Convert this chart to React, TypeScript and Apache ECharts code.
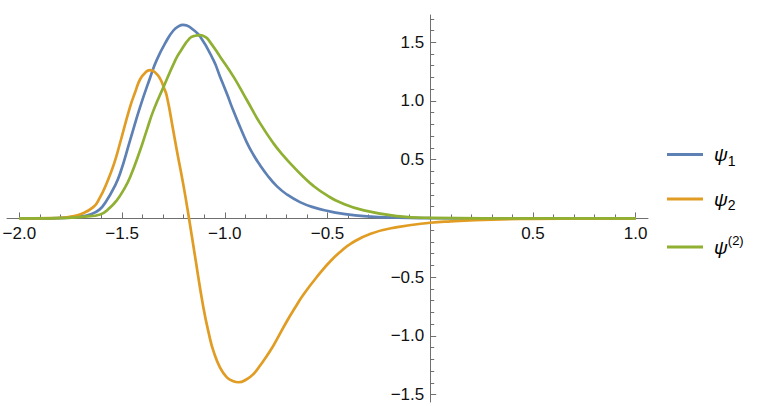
import React, { useEffect, useRef } from "react";
import * as echarts from "echarts";

// ---- data ----
const seriesNames = ["ψ1", "ψ2", "ψ(2)"];
const seriesColors = ["#5E81B5", "#E19C24", "#8FB032"];

const psi1: [number, number][] = [
  [-2.0, 0], [-1.85, 0.001], [-1.78, 0.005], [-1.72, 0.014], [-1.656, 0.034],
  [-1.61, 0.075], [-1.575, 0.153], [-1.54, 0.26], [-1.51, 0.38], [-1.461, 0.665],
  [-1.412, 0.95], [-1.363, 1.2], [-1.331, 1.35], [-1.282, 1.517], [-1.25, 1.6],
  [-1.225, 1.635], [-1.204, 1.648], [-1.185, 1.642], [-1.16, 1.615], [-1.12, 1.548],
  [-1.055, 1.347], [-1.023, 1.207], [-0.99, 1.063], [-0.959, 0.92], [-0.924, 0.772],
  [-0.893, 0.648], [-0.86, 0.54], [-0.829, 0.455], [-0.794, 0.37], [-0.747, 0.275],
  [-0.697, 0.203], [-0.634, 0.139], [-0.567, 0.094], [-0.485, 0.058], [-0.437, 0.043],
  [-0.323, 0.02], [-0.16, 0.006], [0, 0.002], [0.3, 0], [1.0, 0],
];

const psi2: [number, number][] = [
  [-2.0, 0], [-1.85, 0.002], [-1.78, 0.008], [-1.74, 0.018], [-1.705, 0.034],
  [-1.64, 0.096], [-1.61, 0.17], [-1.575, 0.3], [-1.54, 0.46], [-1.51, 0.64],
  [-1.461, 0.95], [-1.435, 1.08], [-1.412, 1.185], [-1.385, 1.245], [-1.364, 1.262],
  [-1.34, 1.245], [-1.315, 1.19], [-1.298, 1.12], [-1.282, 1.04], [-1.251, 0.75],
  [-1.234, 0.585], [-1.202, 0.29], [-1.174, 0.0], [-1.145, -0.32], [-1.105, -0.75],
  [-1.075, -1.0], [-1.055, -1.13], [-1.023, -1.27], [-0.99, -1.353], [-0.958, -1.387],
  [-0.933, -1.395], [-0.893, -1.369], [-0.86, -1.324], [-0.829, -1.255], [-0.778, -1.125],
  [-0.737, -1.0], [-0.697, -0.873], [-0.655, -0.752], [-0.616, -0.645], [-0.534, -0.46],
  [-0.485, -0.362], [-0.437, -0.283], [-0.388, -0.216], [-0.29, -0.13], [-0.16, -0.074],
  [0, -0.037], [0.1, -0.025], [0.3, -0.01], [0.5, -0.004], [0.75, -0.001], [1.0, 0],
];

const psi2nd: [number, number][] = [
  [-2.0, 0], [-1.85, 0.001], [-1.75, 0.006], [-1.68, 0.015], [-1.607, 0.034],
  [-1.56, 0.09], [-1.526, 0.153], [-1.49, 0.25], [-1.461, 0.35], [-1.412, 0.58],
  [-1.38, 0.75], [-1.347, 0.92], [-1.298, 1.12], [-1.24, 1.35], [-1.217, 1.42],
  [-1.17, 1.535], [-1.145, 1.555], [-1.12, 1.56], [-1.095, 1.545], [-1.075, 1.51],
  [-1.022, 1.375], [-0.957, 1.205], [-0.892, 1.006], [-0.827, 0.807], [-0.762, 0.637],
  [-0.715, 0.535], [-0.664, 0.437], [-0.618, 0.355], [-0.567, 0.275], [-0.504, 0.198],
  [-0.437, 0.135], [-0.323, 0.068], [-0.16, 0.02], [0, 0.005], [0.3, 0.001], [1.0, 0],
];

const xRange = [-2.06, 1.06];
const yRange = [-1.563, 1.732];
const xMajorTicks = [-2, -1.5, -1, -0.5, 0, 0.5, 1];
const xMinorTicks = [
  -1.9, -1.8, -1.7, -1.6, -1.4, -1.3, -1.2, -1.1, -0.9, -0.8, -0.7, -0.6,
  -0.4, -0.3, -0.2, -0.1, 0.1, 0.2, 0.3, 0.4, 0.6, 0.7, 0.8, 0.9,
];
const xTickLabels = [-2, -1.5, -1, -0.5, 0.5, 1];
const yMajorTicks = [-1.5, -1, -0.5, 0, 0.5, 1, 1.5];
const yMinorTicks = [
  -1.4, -1.3, -1.2, -1.1, -0.9, -0.8, -0.7, -0.6, -0.4, -0.3, -0.2, -0.1,
  0.1, 0.2, 0.3, 0.4, 0.6, 0.7, 0.8, 0.9, 1.1, 1.2, 1.3, 1.4, 1.6, 1.7,
];
const yTickLabels = [-1.5, -1, -0.5, 0.5, 1, 1.5];

const legendRich: Record<string, string> = {
  "ψ1": "{p|ψ}{sub|1}",
  "ψ2": "{p|ψ}{sub|2}",
  "ψ(2)": "{p|ψ}{sup|(2)}",
};

const AXIS_COLOR = "#707070";
const LABEL_FONT = "'Liberation Sans', Arial, sans-serif";

// plot frame (pixels)
const W = 764;
const H = 406;
const G_LEFT = 7;
const G_RIGHT = 116;
const G_TOP = 15;
const G_BOTTOM = 4;

function fmt(v: number): string {
  const s = Math.abs(v).toFixed(1);
  return v < 0 ? "\u2212" + s : s;
}

export default function App() {
  const ref = useRef<HTMLDivElement>(null);

  useEffect(() => {
    if (!ref.current) return;
    const chart = echarts.init(ref.current, null, { renderer: "svg" });

    // where the zero lines fall inside the frame, so that the label-only grids
    // can put their edges on the crossing axes
    const plotW = W - G_LEFT - G_RIGHT;
    const plotH = H - G_TOP - G_BOTTOM;
    const zeroX = G_LEFT + ((0 - xRange[0]) / (xRange[1] - xRange[0])) * plotW;
    const zeroY = G_TOP + ((yRange[1] - 0) / (yRange[1] - yRange[0])) * plotH;

    const labelStyle = {
      color: "#111",
      fontSize: 17,
      fontFamily: LABEL_FONT,
    };

    const hiddenAxis = (gridIndex: number, range: number[]) => ({
      type: "value",
      gridIndex,
      min: range[0],
      max: range[1],
      show: false,
    });

    const option: any = {
      animation: false,
      backgroundColor: "#ffffff",
      grid: [
        { left: G_LEFT, right: G_RIGHT, top: G_TOP, bottom: G_BOTTOM, containLabel: false, outerBoundsMode: "none" },
        // x tick labels: bottom edge on the zero line
        { left: G_LEFT, right: G_RIGHT, top: G_TOP, bottom: H - zeroY, containLabel: false, outerBoundsMode: "none" },
        // y tick labels: left edge on the zero line
        { left: zeroX, right: G_RIGHT, top: G_TOP, bottom: G_BOTTOM, containLabel: false, outerBoundsMode: "none" },
      ],
      xAxis: [
        {
          type: "value",
          gridIndex: 0,
          min: xRange[0],
          max: xRange[1],
          position: "bottom",
          axisLine: {
            show: true,
            onZero: true,
            onZeroAxisIndex: 0,
            lineStyle: { color: AXIS_COLOR, width: 1 },
          },
          axisTick: {
            show: true,
            inside: true,
            length: 6,
            customValues: xMajorTicks,
            lineStyle: { color: AXIS_COLOR, width: 1 },
          },
          axisLabel: { show: false },
          splitLine: { show: false },
        },
        {
          type: "value",
          gridIndex: 0,
          min: xRange[0],
          max: xRange[1],
          position: "bottom",
          axisLine: { show: false, onZero: true, onZeroAxisIndex: 0 },
          axisTick: {
            show: true,
            inside: true,
            length: 4,
            customValues: xMinorTicks,
            lineStyle: { color: AXIS_COLOR, width: 1 },
          },
          axisLabel: { show: false },
          splitLine: { show: false },
        },
        {
          type: "value",
          gridIndex: 1,
          min: xRange[0],
          max: xRange[1],
          position: "bottom",
          axisLine: { show: false, onZero: false },
          axisTick: { show: false },
          axisLabel: {
            show: true,
            customValues: xTickLabels,
            margin: 7,
            formatter: (v: number) => fmt(v),
            ...labelStyle,
          },
          splitLine: { show: false },
        },
        hiddenAxis(2, xRange),
      ],
      yAxis: [
        {
          type: "value",
          gridIndex: 0,
          min: yRange[0],
          max: yRange[1],
          position: "left",
          axisLine: {
            show: true,
            onZero: true,
            onZeroAxisIndex: 0,
            lineStyle: { color: AXIS_COLOR, width: 1 },
          },
          axisTick: {
            show: true,
            inside: true,
            length: 6,
            customValues: yMajorTicks,
            lineStyle: { color: AXIS_COLOR, width: 1 },
          },
          axisLabel: { show: false },
          splitLine: { show: false },
        },
        {
          type: "value",
          gridIndex: 0,
          min: yRange[0],
          max: yRange[1],
          position: "left",
          axisLine: { show: false, onZero: true, onZeroAxisIndex: 0 },
          axisTick: {
            show: true,
            inside: true,
            length: 4,
            customValues: yMinorTicks,
            lineStyle: { color: AXIS_COLOR, width: 1 },
          },
          axisLabel: { show: false },
          splitLine: { show: false },
        },
        hiddenAxis(1, yRange),
        {
          type: "value",
          gridIndex: 2,
          min: yRange[0],
          max: yRange[1],
          position: "left",
          axisLine: { show: false, onZero: false },
          axisTick: { show: false },
          axisLabel: {
            show: true,
            customValues: yTickLabels,
            margin: 6,
            formatter: (v: number) => fmt(v),
            ...labelStyle,
          },
          splitLine: { show: false },
        },
      ],
      legend: {
        orient: "vertical",
        left: 667,
        top: 145,
        padding: 0,
        itemWidth: 36,
        itemHeight: 3,
        itemGap: 22,
        icon: "rect",
        selectedMode: false,
        data: seriesNames,
        formatter: (name: string) => legendRich[name] || name,
        textStyle: {
          color: "#000",
          rich: {
            p: {
              fontSize: 19,
              fontStyle: "italic",
              fontFamily: LABEL_FONT,
              lineHeight: 26,
              color: "#000",
              padding: [0, 0, 0, 6],
            },
            sub: {
              fontSize: 14,
              fontFamily: LABEL_FONT,
              lineHeight: 14,
              verticalAlign: "bottom",
              color: "#000",
            },
            sup: {
              fontSize: 13,
              fontFamily: LABEL_FONT,
              lineHeight: 17,
              verticalAlign: "top",
              color: "#000",
            },
          },
        },
      },
      series: [psi1, psi2, psi2nd].map((data, i) => ({
        type: "line",
        name: seriesNames[i],
        data,
        xAxisIndex: 0,
        yAxisIndex: 0,
        showSymbol: false,
        symbol: "none",
        smooth: 0.5,
        z: 3,
        lineStyle: { width: 2.7, color: seriesColors[i] },
        itemStyle: { color: seriesColors[i] },
        emphasis: { disabled: true },
      })),
    };

    chart.setOption(option);
    return () => {
      chart.dispose();
    };
  }, []);

  return (
    <div
      ref={ref}
      style={{ position: "absolute", left: 0, top: 0, width: W, height: H }}
    />
  );
}
